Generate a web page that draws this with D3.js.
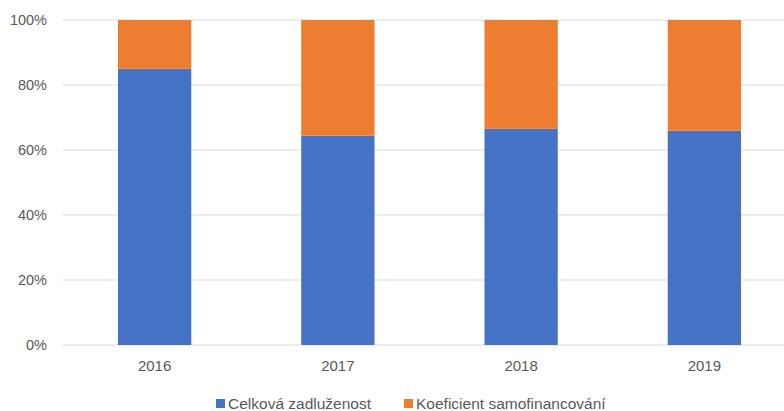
<!DOCTYPE html>
<html>
<head>
<meta charset="utf-8">
<script src="https://cdn.jsdelivr.net/npm/d3@7"></script>
<style>
  body { margin: 0; background: #fff; }
  svg text { font-family: "Liberation Sans", "DejaVu Sans", sans-serif; fill: #595959; }
</style>
</head>
<body>
<svg id="chart" width="784" height="411"></svg>
<script>
// chart data
const years = ["2016", "2017", "2018", "2019"];
const seriesNames = ["Celková zadluženost", "Koeficient samofinancování"];
const zadluzenost = [0.85, 0.644, 0.665, 0.659];
const samofinancovani = [0.15, 0.356, 0.335, 0.341];
const yTicks = [0, 0.2, 0.4, 0.6, 0.8, 1.0];
const colors = ["#4472c4", "#ed7d31"];

const svg = d3.select("#chart");
const margin = { top: 20, right: -12, bottom: 66, left: 63 };
const width = 784 - margin.left - margin.right;
const height = 411 - margin.top - margin.bottom;

const g = svg.append("g").attr("transform", `translate(${margin.left},${margin.top})`);

const x = d3.scaleBand().domain(years).range([0, width]).paddingInner(0.6).paddingOuter(0.3);
const y = d3.scaleLinear().domain([0, 1]).range([height, 0]);

// gridlines
g.selectAll(".grid")
    .data(yTicks)
    .enter().append("line")
    .attr("x1", 0).attr("x2", width)
    .attr("y1", d => y(d)).attr("y2", d => y(d))
    .attr("stroke", "#d9d9d9").attr("stroke-width", 1);

// stacked bars
const rows = years.map((yr, i) => ({ year: yr, a: zadluzenost[i], b: samofinancovani[i] }));
const stacked = d3.stack().keys(["a", "b"])(rows);

g.selectAll(".series")
    .data(stacked)
    .enter().append("g")
    .attr("fill", (d, i) => colors[i])
    .selectAll("rect")
    .data(d => d)
    .enter().append("rect")
    .attr("x", d => x(d.data.year))
    .attr("width", x.bandwidth())
    .attr("y", d => y(d[1]))
    .attr("height", d => y(d[0]) - y(d[1]));

// y axis labels
const yAxis = g.append("g").call(d3.axisLeft(y).tickValues(yTicks).tickFormat(d3.format(".0%")).tickSize(0).tickPadding(16));
yAxis.select(".domain").remove();
yAxis.selectAll("text").style("font-size", "14.5px").attr("fill", "#595959");

// x axis labels
const xAxis = g.append("g").attr("transform", `translate(0,${height})`)
    .call(d3.axisBottom(x).tickSize(0).tickPadding(15));
xAxis.select(".domain").remove();
xAxis.selectAll("text").style("font-size", "15px").attr("fill", "#595959");

// legend
const legendX = [216, 404];
const legend = svg.selectAll(".legend")
    .data(seriesNames)
    .enter().append("g")
    .attr("transform", (d, i) => `translate(${legendX[i]},404)`);
legend.append("rect")
    .attr("x", 0).attr("y", -5)
    .attr("width", 9).attr("height", 9)
    .attr("fill", (d, i) => colors[i]);
legend.append("text")
    .attr("x", 12).attr("y", 0)
    .attr("dy", "0.35em")
    .style("font-size", "15.5px")
    .text(d => d);
</script>
</body>
</html>
